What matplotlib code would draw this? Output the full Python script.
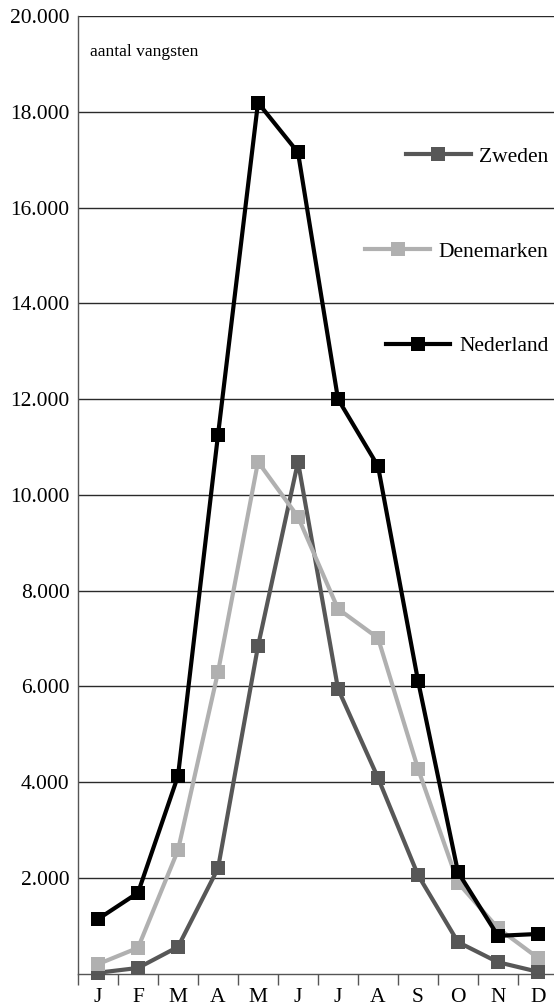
import matplotlib
matplotlib.use("Agg")
import matplotlib.pyplot as plt
from matplotlib.lines import Line2D
from matplotlib.legend import Legend

plt.rcParams['font.family'] = ['Liberation Serif', 'DejaVu Serif']

months = ['J', 'F', 'M', 'A', 'M', 'J', 'J', 'A', 'S', 'O', 'N', 'D']
zweden = [20, 120, 560, 2200, 6840, 10690, 5950, 4090, 2060, 660, 240, 40]
denemarken = [200, 540, 2580, 6300, 10690, 9540, 7620, 7010, 4280, 1900, 950, 330]
nederland = [1140, 1690, 4130, 11250, 18190, 17150, 12000, 10600, 6120, 2120, 790, 830]
y_ticks = [0, 2000, 4000, 6000, 8000, 10000, 12000, 14000, 16000, 18000, 20000]
y_labels = ['', '2.000', '4.000', '6.000', '8.000', '10.000', '12.000',
            '14.000', '16.000', '18.000', '20.000']
series_names = ['Zweden', 'Denemarken', 'Nederland']
series_colors = ['#575757', '#b0b0b0', '#000000']

fig = plt.figure(figsize=(5.54, 10.07), dpi=100)
ax = fig.add_axes([78 / 554, 1 - 973.7 / 1007, 480 / 554, (973.7 - 16) / 1007])

x = list(range(1, 13))
handles = []
for vals, name, col in zip([zweden, denemarken, nederland], series_names, series_colors):
    h, = ax.plot(x, vals, color=col, lw=3, marker='s', ms=10, mew=0,
                 solid_joinstyle='miter', label=name, clip_on=False)
    handles.append(h)

ax.set_xlim(0.5, 12.5)
ax.set_ylim(0, 20000)

# grid lines
for v in y_ticks[1:]:
    ax.axhline(v, color='#2a2a2a', lw=1.0, zorder=0)

ax.set_yticks(y_ticks)
ax.set_yticklabels(y_labels, fontsize=15.5)
ax.tick_params(axis='y', length=0, pad=6)

ax.set_xticks([i + 0.5 for i in range(0, 13)])
ax.set_xticklabels([])
ax.set_xticks(x, minor=True)
ax.set_xticklabels(months, minor=True, fontsize=15.5)
ax.tick_params(axis='x', which='major', length=8, width=1, color='#555555', direction='out')
ax.tick_params(axis='x', which='minor', length=0, pad=10)

for s in ['top', 'right']:
    ax.spines[s].set_visible(False)
ax.spines['left'].set_color('#555555')
ax.spines['bottom'].set_color('#555555')
ax.spines['left'].set_linewidth(1.0)
ax.spines['bottom'].set_linewidth(1.0)

ax.text(12 / 480, 0.962, 'aantal vangsten', transform=ax.transAxes,
        fontsize=12.6, ha='left', va='center')

legend_y = [0.853, 0.754, 0.655]
for h, ly in zip(handles, legend_y):
    lh = Line2D([], [], color=h.get_color(), lw=3, marker='s', ms=10, mew=0)
    leg = Legend(ax, [lh], [h.get_label()], loc='center right',
                 bbox_to_anchor=(0.98, ly), bbox_transform=ax.transAxes,
                 frameon=False, fontsize=15.5,
                 handlelength=3.0, handletextpad=0.4, borderpad=0,
                 borderaxespad=0)
    ax.add_artist(leg)

fig.savefig('out.png', dpi=100)
